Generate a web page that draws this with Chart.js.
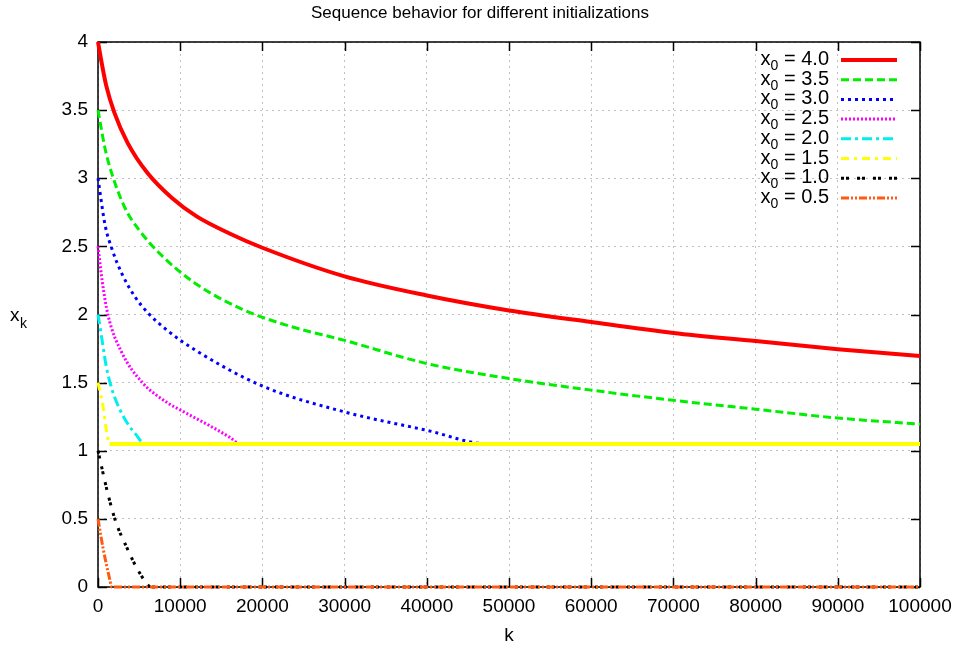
<!DOCTYPE html>
<html>
<head>
<meta charset="utf-8">
<script src="https://cdn.jsdelivr.net/npm/chart.js@4.4.1/dist/chart.umd.min.js"></script>
<style>
  html, body { margin: 0; padding: 0; background: #fff; }
  #wrap { width: 960px; height: 653px; position: relative; }
</style>
</head>
<body>
<div id="wrap"><canvas id="seqChart"></canvas></div>
<script>
// -----------------------------
// DATA
// -----------------------------
const titleText = "Sequence behavior for different initializations";
const startValues = ["4.0", "3.5", "3.0", "2.5", "2.0", "1.5", "1.0", "0.5"];

const k40 = [0, 500, 1000, 2000, 3600, 6000, 9000, 12000, 16000, 20000, 30000, 40000, 50000, 60000, 70000, 80000, 90000, 100000];
const x40 = [4.0, 3.83, 3.68, 3.48, 3.26, 3.04, 2.855, 2.72, 2.595, 2.49, 2.28, 2.14, 2.03, 1.945, 1.865, 1.805, 1.745, 1.695];

const k35 = [0, 850, 1700, 3300, 5000, 7800, 11800, 17500, 23000, 30000, 40000, 50000, 60000, 70000, 80000, 90000, 100000];
const x35 = [3.5, 3.22, 3.03, 2.78, 2.62, 2.43, 2.23, 2.04, 1.92, 1.81, 1.64, 1.53, 1.445, 1.37, 1.305, 1.24, 1.195];

const k30 = [0, 850, 1700, 2900, 4500, 6100, 8500, 11800, 20000, 30000, 40000, 47500, 100000];
const x30 = [3.0, 2.66, 2.48, 2.3, 2.13, 2.01, 1.88, 1.74, 1.475, 1.285, 1.15, 1.05, 1.05];

const k25 = [0, 500, 1200, 2900, 5400, 8500, 10000, 12000, 14000, 16000, 17300, 100000];
const x25 = [2.5, 2.25, 2.0, 1.72, 1.5, 1.35, 1.3, 1.235, 1.17, 1.1, 1.05, 1.05];

const k20 = [0, 400, 1000, 1700, 2600, 3600, 4600, 5700, 100000];
const x20 = [2.0, 1.85, 1.62, 1.45, 1.31, 1.2, 1.12, 1.05, 1.05];

const k15 = [0, 600, 1100, 1400, 100000];
const x15 = [1.5, 1.33, 1.12, 1.05, 1.05];

const k10 = [0, 1100, 2100, 3500, 5100, 6500, 100000];
const x10 = [1.0, 0.71, 0.49, 0.29, 0.1, 0.0, 0.0];

const k05 = [0, 600, 1450, 1650, 100000];
const x05 = [0.5, 0.29, 0.05, 0.0, 0.0];

const xTicks = [0, 10000, 20000, 30000, 40000, 50000, 60000, 70000, 80000, 90000, 100000];
const yTicks = [0, 0.5, 1, 1.5, 2, 2.5, 3, 3.5, 4];

// -----------------------------
// STYLES
// -----------------------------
const seriesK = [k40, k35, k30, k25, k20, k15, k10, k05];
const seriesX = [x40, x35, x30, x25, x20, x15, x10, x05];
const colors = ["#ff0000", "#00ee00", "#0000ff", "#ff00ff", "#00eeee", "#ffff00", "#000000", "#ff5a10"];
const dashes = [[], [8, 4], [3, 4], [2, 2], [10, 4, 3, 4], [8, 5, 3, 5], [3, 2, 3, 8], [8, 2, 2, 2, 2, 2]];
const widths = [4, 3, 3, 3, 3, 3, 3, 3];

const FONT = "'Liberation Sans', Arial, sans-serif";

// the flat tail of the 1.5 curve is a thick, almost solid band in the picture
const flatTail = i => ctx => (i === 5 && ctx.p0.parsed.y === ctx.p1.parsed.y) ? [] : undefined;
const flatWidth = i => ctx => (i === 5 && ctx.p0.parsed.y === ctx.p1.parsed.y) ? 4 : undefined;

const datasets = seriesK.map((ks, i) => ({
    label: "x0 = " + startValues[i],
    data: ks.map((k, j) => ({ x: k, y: seriesX[i][j] })),
    borderColor: colors[i],
    backgroundColor: colors[i],
    borderWidth: widths[i],
    borderDash: dashes[i],
    segment: { borderDash: flatTail(i), borderWidth: flatWidth(i) },
    pointRadius: 0,
    fill: false,
    cubicInterpolationMode: "monotone",
    clip: false,
    order: 8 - i
}));

// -----------------------------
// GNUPLOT-LIKE DECORATIONS
// -----------------------------
const gnuplotLook = {
    id: "gnuplotLook",
    beforeDatasetsDraw(chart) {
        const { ctx, chartArea: a, scales } = chart;
        ctx.save();
        ctx.strokeStyle = "#000";
        ctx.lineWidth = 1.5;
        ctx.strokeRect(a.left, a.top, a.right - a.left, a.bottom - a.top);
        const t = 9;
        ctx.beginPath();
        xTicks.forEach(v => {
            const px = Math.round(scales.x.getPixelForValue(v)) + 0.5;
            ctx.moveTo(px, a.bottom); ctx.lineTo(px, a.bottom - t);
            ctx.moveTo(px, a.top); ctx.lineTo(px, a.top + t);
        });
        yTicks.forEach(v => {
            const py = Math.round(scales.y.getPixelForValue(v)) + 0.5;
            ctx.moveTo(a.left, py); ctx.lineTo(a.left + t, py);
            ctx.moveTo(a.right, py); ctx.lineTo(a.right - t, py);
        });
        ctx.stroke();
        ctx.restore();
    },
    afterDraw(chart) {
        const { ctx, chartArea: a } = chart;
        ctx.save();
        ctx.fillStyle = "#000";
        ctx.textBaseline = "alphabetic";

        // title
        ctx.font = "17px " + FONT;
        ctx.textAlign = "center";
        ctx.fillText(titleText, 480, 18);

        // axis titles
        ctx.font = "19px " + FONT;
        ctx.fillText("k", (a.left + a.right) / 2, 641);
        ctx.textAlign = "left";
        ctx.fillText("x", 10, 321);
        ctx.font = "14px " + FONT;
        ctx.fillText("k", 20, 328);

        // legend, text on the left, sample on the right
        chart.data.datasets.forEach((ds, i) => {
            const y = 60 + i * 19.7;
            const rest = " = " + startValues[i];
            ctx.font = "20px " + FONT;
            const wRest = ctx.measureText(rest).width;
            const wX = ctx.measureText("x").width;
            ctx.font = "14px " + FONT;
            const wSub = ctx.measureText("0").width;
            const x0 = 829 - wRest - wSub - wX;
            ctx.textAlign = "left";
            ctx.font = "20px " + FONT;
            ctx.fillText("x", x0, y + 5);
            ctx.font = "14px " + FONT;
            ctx.fillText("0", x0 + wX, y + 10);
            ctx.font = "20px " + FONT;
            ctx.fillText(rest, x0 + wX + wSub, y + 5);

            ctx.beginPath();
            ctx.strokeStyle = ds.borderColor;
            ctx.lineWidth = ds.borderWidth;
            ctx.setLineDash(ds.borderDash);
            ctx.moveTo(841, y);
            ctx.lineTo(897, y);
            ctx.stroke();
            ctx.setLineDash([]);
        });
        ctx.restore();
    }
};

// -----------------------------
// CHART
// -----------------------------
new Chart(document.getElementById("seqChart"), {
    type: "line",
    data: { datasets },
    options: {
        responsive: true,
        maintainAspectRatio: false,
        animation: false,
        layout: { padding: { top: 42, right: 40, left: 0, bottom: 0 } },
        plugins: {
            legend: { display: false },
            title: { display: false },
            tooltip: { enabled: false }
        },
        scales: {
            x: {
                type: "linear",
                min: 0,
                max: 100000,
                afterFit: s => { s.height = 66; },
                ticks: {
                    stepSize: 10000,
                    color: "#000",
                    font: { family: FONT, size: 19 },
                    padding: 8,
                    maxRotation: 0,
                    callback: v => String(v)
                },
                grid: { color: "#c0c0c0", lineWidth: 1, drawTicks: false },
                border: { display: false, dash: [2, 4] }
            },
            y: {
                type: "linear",
                min: 0,
                max: 4,
                afterFit: s => { s.width = 98; },
                ticks: {
                    stepSize: 0.5,
                    color: "#000",
                    font: { family: FONT, size: 19 },
                    padding: 10,
                    callback: v => String(v)
                },
                grid: { color: "#c0c0c0", lineWidth: 1, drawTicks: false },
                border: { display: false, dash: [2, 4] }
            }
        }
    },
    plugins: [gnuplotLook]
});
</script>
</body>
</html>
